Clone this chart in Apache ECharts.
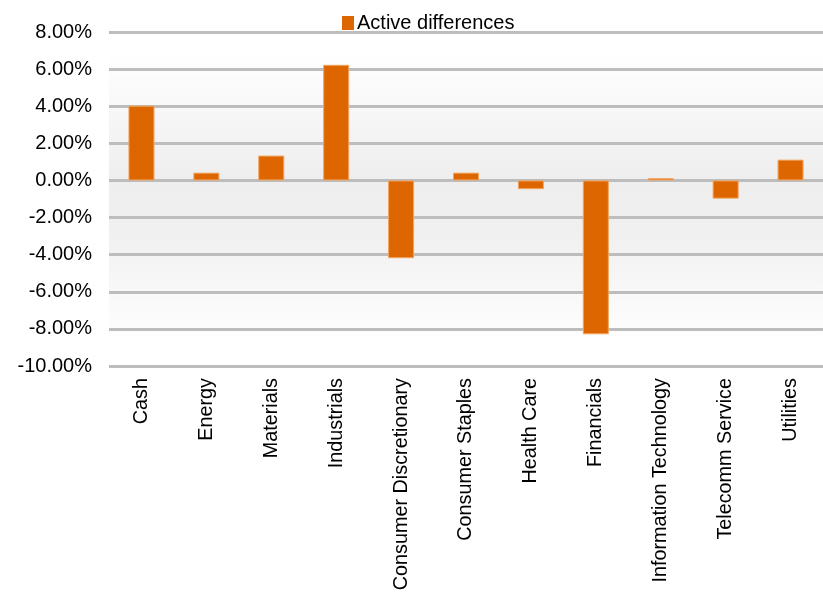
<!DOCTYPE html>
<html>
<head>
<meta charset="utf-8">
<script src="https://cdn.jsdelivr.net/npm/echarts@6/dist/echarts.min.js"></script>
<style>
  html, body { margin: 0; padding: 0; background: #fff; }
  #chart { width: 823px; height: 594px; }
</style>
</head>
<body>
<div id="chart"></div>
<script>
// Sector active weights (percent) versus the benchmark
const sectors = ['Cash', 'Energy', 'Materials', 'Industrials', 'Consumer Discretionary',
  'Consumer Staples', 'Health Care', 'Financials', 'Information Technology',
  'Telecomm Service', 'Utilities'];
const activeDifferences = [4.03, 0.42, 1.34, 6.23, -4.19, 0.42, -0.47, -8.29, 0.12, -0.98, 1.12];
const seriesName = 'Active differences';
const yMin = -10, yMax = 8, yStep = 2;

const chart = echarts.init(document.getElementById('chart'), null, { renderer: 'canvas' });
const font = 'Liberation Sans, Arial, sans-serif';

chart.setOption({
  animation: false,
  backgroundColor: '#ffffff',
  legend: {
    data: [seriesName],
    left: 337,
    top: 8,
    itemWidth: 12,
    itemHeight: 14,
    itemGap: 4,
    icon: 'rect',
    itemStyle: { borderWidth: 0 },
    textStyle: { fontFamily: font, fontSize: 20, color: '#000', padding: [0, 0, 0, -2] }
  },
  grid: {
    left: 109, right: 0, top: 32, bottom: 228,
    show: true,
    borderWidth: 0,
    backgroundColor: {
      type: 'linear', x: 0, y: 0, x2: 0, y2: 1,
      colorStops: [
        { offset: 0, color: '#ffffff' },
        { offset: 0.06, color: '#ffffff' },
        { offset: 0.44, color: '#eeeeee' },
        { offset: 0.6, color: '#f0f0f0' },
        { offset: 0.93, color: '#ffffff' },
        { offset: 1, color: '#ffffff' }
      ]
    }
  },
  xAxis: {
    type: 'category',
    data: sectors,
    position: 'bottom',
    axisLine: { show: false, onZero: false },
    axisTick: { show: false },
    axisLabel: {
      rotate: 90,
      margin: 12,
      interval: 0,
      fontFamily: font,
      fontSize: 19.8,
      color: '#000'
    }
  },
  yAxis: {
    type: 'value',
    min: yMin, max: yMax, interval: yStep,
    axisLine: { show: false },
    axisTick: { show: false },
    splitLine: { lineStyle: { color: '#bdbdbd', width: 3 } },
    axisLabel: {
      margin: 17,
      fontFamily: font,
      fontSize: 20,
      color: '#000',
      formatter: v => v.toFixed(2) + '%'
    }
  },
  series: [{
    name: seriesName,
    type: 'bar',
    data: activeDifferences,
    barWidth: 26,
    itemStyle: { color: '#dd6600', borderColor: '#f2a35c', borderWidth: 1 }
  }]
});
</script>
</body>
</html>
